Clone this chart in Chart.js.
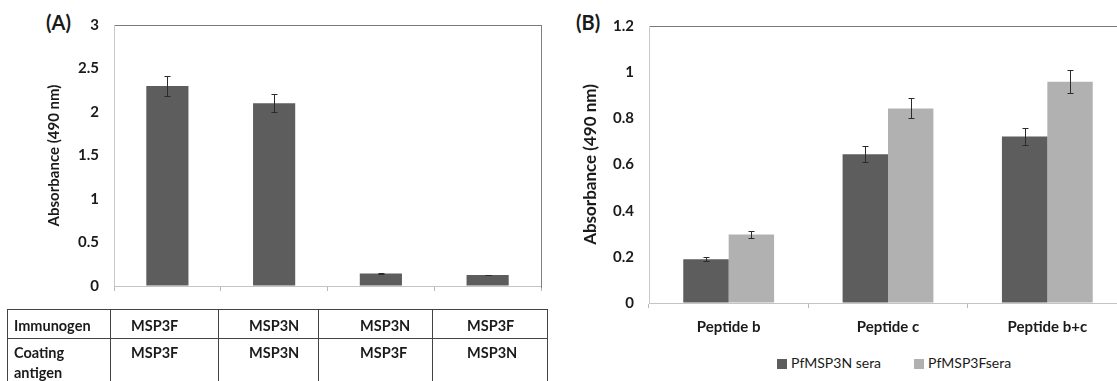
<!DOCTYPE html>
<html>
<head>
<meta charset="utf-8">
<script src="https://cdn.jsdelivr.net/npm/chart.js@4.4.1/dist/chart.umd.min.js"></script>
<style>
  html, body {
    margin: 0;
    padding: 0;
    width: 1117px;
    height: 381px;
    overflow: hidden;
    background: #fff;
    font-family: Lato, "Open Sans", sans-serif;
    color: #1a1a1a;
  }
  .tag {
    position: absolute;
    font-weight: bold;
    font-size: 20px;
    line-height: 22px;
  }
  #chartA { position: absolute; left: 0; top: 0; }
  #chartB { position: absolute; left: 560px; top: 0; }
  #tableA {
    position: absolute;
    left: 7px;
    top: 309px;
    border-collapse: collapse;
    table-layout: fixed;
    font-size: 14.5px;
    font-weight: bold;
  }
  #tableA td {
    border: 1px solid #444;
    vertical-align: top;
    line-height: 20px;
    padding-top: 6px;
    padding-right: 0;
    white-space: nowrap;
    overflow: hidden;
  }
  #tableA tr.first td { height: 21px; }
  #tableA tr.second td { height: 60px; padding-top: 4px; }
  #legendB {
    position: absolute;
    top: 354px;
    left: 777px;
    font-size: 14px;
    line-height: 18px;
    white-space: nowrap;
  }
  #legendB span.item { display: inline-block; margin-right: 33px; }
  #legendB i {
    display: inline-block;
    width: 10px;
    height: 10px;
    margin-right: 4px;
    vertical-align: -1px;
  }
</style>
</head>
<body>
<div class="tag" style="left:46px; top:11px;">(A)</div>
<div class="tag" style="left:576px; top:11px;">(B)</div>
<canvas id="chartA" width="560" height="310"></canvas>
<canvas id="chartB" width="580" height="340"></canvas>
<table id="tableA"></table>
<div id="legendB"></div>

<script>
// Panel A data
const immunogen = ["MSP3F", "MSP3N", "MSP3N", "MSP3F"];
const coatingAntigen = ["MSP3F", "MSP3N", "MSP3F", "MSP3N"];
const absorbA = [2.30, 2.10, 0.145, 0.127];
const errA = [0.115, 0.105, 0.005, 0.005];
const yTicksA = ["0", "0.5", "1", "1.5", "2", "2.5", "3"];

// Panel B data
const peptides = ["Peptide b", "Peptide c", "Peptide b+c"];
const seriesNames = ["PfMSP3N sera", "PfMSP3Fsera"];
const msp3nSera = [0.190, 0.644, 0.721];
const msp3nErr = [0.010, 0.034, 0.038];
const msp3fSera = [0.297, 0.843, 0.959];
const msp3fErr = [0.017, 0.043, 0.050];
const yTicksB = ["0", "0.2", "0.4", "0.6", "0.8", "1", "1.2"];

const darkGrey = "#5d5d5d";
const lightGrey = "#b1b1b1";
const textColor = "#1a1a1a";

// error bars drawn from each dataset's "errors" list
const errorBars = {
  id: "errorBars",
  afterDatasetsDraw(chart) {
    const ctx = chart.ctx;
    const yScale = chart.scales.y;
    ctx.save();
    ctx.strokeStyle = "#2b2b2b";
    ctx.lineWidth = 1;
    chart.data.datasets.forEach((ds, i) => {
      const meta = chart.getDatasetMeta(i);
      meta.data.forEach((bar, j) => {
        const v = ds.data[j];
        const e = ds.errors[j];
        const top = Math.round(yScale.getPixelForValue(v + e)) + 0.5;
        const bot = Math.round(yScale.getPixelForValue(v - e)) + 0.5;
        const x = Math.round(bar.x) + 0.5;
        ctx.beginPath();
        ctx.moveTo(x, top);
        ctx.lineTo(x, bot);
        ctx.moveTo(x - 3, top);
        ctx.lineTo(x + 3, top);
        ctx.moveTo(x - 3, bot);
        ctx.lineTo(x + 3, bot);
        ctx.stroke();
      });
    });
    ctx.restore();
  }
};

// right edge of the plot box (panel A only)
const rightBorder = {
  id: "rightBorder",
  afterDraw(chart, args, opts) {
    if (!opts.color) return;
    const { right, top, bottom } = chart.chartArea;
    const ctx = chart.ctx;
    ctx.save();
    ctx.strokeStyle = opts.color;
    ctx.lineWidth = 1;
    ctx.beginPath();
    ctx.moveTo(Math.round(right) + 0.5, top);
    ctx.lineTo(Math.round(right) + 0.5, bottom + 2);
    ctx.stroke();
    ctx.restore();
  }
};

const tickFont = { family: "Lato", size: 15, weight: "bold" };

// top grid line only, the rest are hidden
function topLineOnly(ctx) {
  return ctx.index === ctx.scale.ticks.length - 1 ? "#7a7a7a" : "rgba(0,0,0,0)";
}

// Chart A
new Chart(document.getElementById("chartA"), {
  type: "bar",
  data: {
    labels: immunogen.map((im, i) => im + " / " + coatingAntigen[i]),
    datasets: [
      {
        label: "Absorbance",
        data: absorbA,
        errors: errA,
        backgroundColor: darkGrey,
        barPercentage: 0.395,
        categoryPercentage: 1
      }
    ]
  },
  options: {
    responsive: false,
    animation: false,
    layout: { padding: { top: 25, right: 19, left: 0, bottom: 0 } },
    plugins: {
      legend: { display: false },
      tooltip: { enabled: false },
      rightBorder: { color: "#808080" }
    },
    scales: {
      x: {
        ticks: { display: false },
        grid: { drawOnChartArea: false, color: "#b8b8b8", tickLength: 5 },
        border: { color: "#c4c4c4" },
        afterFit: (s) => { s.height = 10; }
      },
      y: {
        min: 0,
        max: 3,
        ticks: {
          stepSize: 0.5,
          font: tickFont,
          color: textColor,
          padding: 15,
          callback: (v, i) => yTicksA[i]
        },
        grid: { color: topLineOnly, drawTicks: false },
        border: { color: "#c8c8c8" },
        title: {
          display: true,
          text: "Absorbance (490 nm)",
          font: { family: "Lato", size: 15, weight: "bold" },
          color: textColor,
          padding: { top: 45, bottom: 0 }
        },
        afterFit: (s) => { s.width = 114; }
      }
    }
  },
  plugins: [errorBars, rightBorder]
});

// Chart B
new Chart(document.getElementById("chartB"), {
  type: "bar",
  data: {
    labels: peptides,
    datasets: [
      {
        label: seriesNames[0],
        data: msp3nSera,
        errors: msp3nErr,
        backgroundColor: darkGrey,
        barPercentage: 1,
        categoryPercentage: 0.57
      },
      {
        label: seriesNames[1],
        data: msp3fSera,
        errors: msp3fErr,
        backgroundColor: lightGrey,
        barPercentage: 1,
        categoryPercentage: 0.57
      }
    ]
  },
  options: {
    responsive: false,
    animation: false,
    layout: { padding: { top: 26, right: 13, left: 0, bottom: 0 } },
    plugins: {
      legend: { display: false },
      tooltip: { enabled: false }
    },
    scales: {
      x: {
        ticks: { font: tickFont, color: textColor, padding: 10, maxRotation: 0 },
        grid: { drawOnChartArea: false, color: "#b8b8b8", tickLength: 5 },
        border: { color: "#c4c4c4" },
        afterFit: (s) => { s.height = 37; }
      },
      y: {
        min: 0,
        max: 1.2,
        ticks: {
          stepSize: 0.2,
          font: tickFont,
          color: textColor,
          padding: 15,
          callback: (v, i) => yTicksB[i]
        },
        grid: { color: topLineOnly, drawTicks: false },
        border: { color: "#c8c8c8" },
        title: {
          display: true,
          text: "Absorbance (490 nm)",
          font: { family: "Lato", size: 17, weight: "bold" },
          color: textColor,
          padding: { top: 20, bottom: 0 }
        },
        afterFit: (s) => { s.width = 89; }
      }
    }
  },
  plugins: [errorBars]
});

// table under panel A
const colWidths = [103, 108, 100, 114, 115];
const colPads = [6, 20, 30, 41, 34];
const table = document.getElementById("tableA");
const cg = document.createElement("colgroup");
colWidths.forEach((w) => {
  const c = document.createElement("col");
  c.style.width = w + "px";
  cg.appendChild(c);
});
table.appendChild(cg);

function addRow(cls, head, values) {
  const tr = document.createElement("tr");
  tr.className = cls;
  [head].concat(values).forEach((txt, i) => {
    const td = document.createElement("td");
    td.innerHTML = txt;
    td.style.paddingLeft = colPads[i] + "px";
    tr.appendChild(td);
  });
  table.appendChild(tr);
}
addRow("first", "Immunogen", immunogen);
addRow("second", "Coating<br>antigen", coatingAntigen);

// legend for panel B
const legend = document.getElementById("legendB");
[darkGrey, lightGrey].forEach((col, i) => {
  const item = document.createElement("span");
  item.className = "item";
  item.innerHTML = '<i style="background:' + col + '"></i>' + seriesNames[i];
  legend.appendChild(item);
});
</script>
</body>
</html>
